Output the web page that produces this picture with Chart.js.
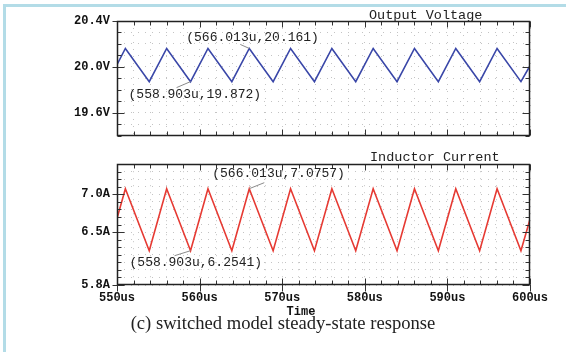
<!DOCTYPE html>
<html>
<head>
<meta charset="utf-8">
<script src="https://cdn.jsdelivr.net/npm/chart.js@4.4.0/dist/chart.umd.min.js"></script>
<style>
  body { margin: 0; width: 566px; height: 352px; background: #fff; position: relative; overflow: hidden; }
  #frame { position: absolute; left: 3px; top: 4px; right: 0; bottom: 0;
           border-left: 3px solid #b3dce7; border-top: 3px solid #b3dce7; }
  #c1 { position: absolute; left: 0; top: 0; }
  #c2 { position: absolute; left: 0; top: 150px; }
  #caption { position: absolute; left: 0; width: 566px; top: 312px; text-align: center;
             font: 18.6px "Liberation Serif", serif; color: #222; }
</style>
</head>
<body>
<div id="frame"></div>
<canvas id="c1" width="566" height="150"></canvas>
<canvas id="c2" width="566" height="202"></canvas>
<div id="caption">(c) switched model steady-state response</div>
<script>
// time axis in us, vertices of the switching ripple
const times = [550, 551.013, 553.903, 556.013, 558.903, 561.013, 563.903, 566.013, 568.903,
               571.013, 573.903, 576.013, 578.903, 581.013, 583.903, 586.013, 588.903,
               591.013, 593.903, 596.013, 598.903, 600];
const voltage = [20.02, 20.161, 19.872, 20.161, 19.872, 20.161, 19.872, 20.161, 19.872,
                 20.161, 19.872, 20.161, 19.872, 20.161, 19.872, 20.161, 19.872,
                 20.161, 19.872, 20.161, 19.872, 20.01];
const current = [6.68, 7.0757, 6.2541, 7.0757, 6.2541, 7.0757, 6.2541, 7.0757, 6.2541,
                 7.0757, 6.2541, 7.0757, 6.2541, 7.0757, 6.2541, 7.0757, 6.2541,
                 7.0757, 6.2541, 7.0757, 6.2541, 6.67];

const timeLabels = [550, 560, 570, 580, 590, 600];
const voltLabels = [19.6, 20.0, 20.4];
const currLabels = [5.8, 6.5, 7.0];

const voltNotes = [
  { t: 566.013, v: 20.161, text: "(566.013u,20.161)" },
  { t: 558.903, v: 19.872, text: "(558.903u,19.872)" }
];
const currNotes = [
  { t: 566.013, v: 7.0757, text: "(566.013u,7.0757)" },
  { t: 558.903, v: 6.2541, text: "(558.903u,6.2541)" }
];

const MONO = '"Liberation Mono", "Courier New", monospace';
const isIn = (list, v) => list.some(l => Math.abs(l - v) < 1e-6);

// PSpice look: frame, inward ticks, cursor labels, title
const scopePlugin = {
  id: "scope",
  afterDatasetsDraw(chart, args, opts) {
    const { ctx, chartArea: a, scales: { x, y } } = chart;
    const L = Math.round(a.left) + 0.5, R = Math.round(a.right) - 0.5;
    const T = Math.round(a.top) + 0.5, B = Math.round(a.bottom) - 0.5;
    ctx.save();
    ctx.strokeStyle = "#333";
    ctx.lineWidth = 1;
    ctx.beginPath();
    x.ticks.forEach(tk => {
      const px = Math.round(x.getPixelForValue(tk.value)) + 0.5;
      const len = tk.value % 10 === 0 ? 6 : 4;
      ctx.moveTo(px, B); ctx.lineTo(px, B - len);
      ctx.moveTo(px, T); ctx.lineTo(px, T + len);
      if (opts.outerX && tk.value % 10 === 0) { ctx.moveTo(px, B); ctx.lineTo(px, B + 7); }
    });
    y.ticks.forEach(tk => {
      const py = Math.round(y.getPixelForValue(tk.value)) + 0.5;
      const major = isIn(opts.yLabels, tk.value);
      const len = major ? 7 : 4;
      ctx.moveTo(L, py); ctx.lineTo(L + len, py);
      ctx.moveTo(R, py); ctx.lineTo(R - len, py);
      if (major) { ctx.moveTo(L, py); ctx.lineTo(L - 5, py); }
    });
    ctx.stroke();

    ctx.lineWidth = 1.5;
    ctx.strokeStyle = "#222";
    ctx.strokeRect(L, T, R - L, B - T);

    // cursor readouts
    ctx.font = "13px " + MONO;
    ctx.fillStyle = "#222";
    ctx.textBaseline = "middle";
    ctx.textAlign = "left";
    opts.notes.forEach((n, i) => {
      const p = opts.place[i];
      const px = x.getPixelForValue(n.t), py = y.getPixelForValue(n.v);
      ctx.strokeStyle = "#8a8a8a";
      ctx.lineWidth = 1;
      ctx.beginPath();
      ctx.moveTo(px, py);
      ctx.lineTo(px + p.lx, py + p.ly);
      ctx.stroke();
      ctx.fillText(n.text, px + p.tx, py + p.ty);
    });

    ctx.font = "13.5px " + MONO;
    ctx.fillText(opts.title.text, opts.title.x, opts.title.y);

    if (opts.axisTitle) {
      ctx.font = "bold 12px " + MONO;
      ctx.textAlign = "center";
      ctx.fillStyle = "#111";
      ctx.fillText(opts.axisTitle.text, opts.axisTitle.x, opts.axisTitle.y);
    }
    ctx.restore();
  }
};

function makeChart(id, values, color, yMin, yMax, yLabels, unit, scopeOpts, showX, padTop, xHeight) {
  return new Chart(document.getElementById(id), {
    type: "line",
    data: {
      datasets: [{
        data: times.map((t, i) => ({ x: t, y: values[i] })),
        borderColor: color,
        borderWidth: 1.6,
        pointRadius: 0,
        tension: 0
      }]
    },
    options: {
      responsive: false,
      animation: false,
      layout: { padding: { top: padTop, right: 36, left: 0, bottom: showX ? 0 : 5 } },
      plugins: { legend: { display: false }, tooltip: { enabled: false }, scope: scopeOpts },
      scales: {
        x: {
          type: "linear",
          min: 550, max: 600,
          afterFit: s => { s.height = xHeight; },
          border: { display: false, dash: [1, 6] },
          grid: { color: "#c4c4c4", drawTicks: false },
          ticks: {
            display: showX,
            stepSize: 2,
            autoSkip: false,
            maxRotation: 0,
            padding: 6,
            color: "#111",
            font: { family: MONO, size: 12, weight: "bold" },
            callback: v => isIn(timeLabels, v) ? v + "us" : ""
          }
        },
        y: {
          min: yMin, max: yMax,
          afterFit: s => { s.width = 117; },
          border: { display: false, dash: [1, 6] },
          grid: { color: "#c4c4c4", drawTicks: false },
          ticks: {
            stepSize: 0.1,
            autoSkip: false,
            padding: 7,
            color: "#111",
            font: { family: MONO, size: 12, weight: "bold" },
            callback: v => isIn(yLabels, v) ? v.toFixed(1) + unit : ""
          }
        }
      }
    },
    plugins: [scopePlugin]
  });
}

makeChart("c1", voltage, "#3a47a8", 19.4, 20.4, voltLabels, "V", {
  yLabels: voltLabels,
  notes: voltNotes,
  place: [{ tx: -63, ty: -11, lx: -9, ly: -4 }, { tx: -62, ty: 13, lx: -14, ly: 6 }],
  title: { text: "Output Voltage", x: 369, y: 15 }
}, false, 21, 0);

makeChart("c2", current, "#e63a33", 5.8, 7.4, currLabels, "A", {
  yLabels: currLabels,
  outerX: true,
  notes: currNotes,
  place: [{ tx: -37, ty: -15.5, lx: 15, ly: -6 }, { tx: -61, ty: 12, lx: -16, ly: 5 }],
  title: { text: "Inductor Current", x: 370, y: 7 },
  axisTitle: { text: "Time", x: 301, y: 162 }
}, true, 12, 67);
</script>
</body>
</html>
